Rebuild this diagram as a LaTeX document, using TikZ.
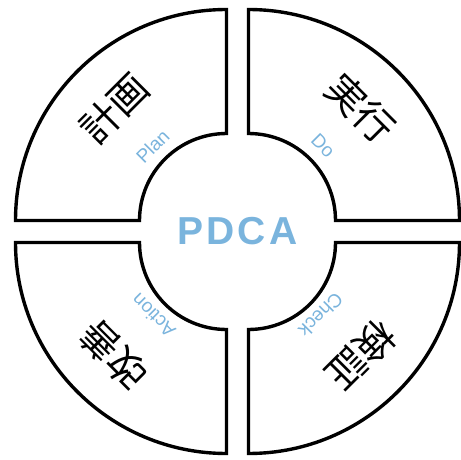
\documentclass[tikz,border=0pt]{standalone}
\usepackage{fontspec}
\setmainfont{Liberation Sans}
\newfontfamily\cjk{Noto Sans CJK JP}
\newfontfamily\pdcafont[LetterSpace=8]{Liberation Sans}
\definecolor{pdcablue}{RGB}{122,180,221}
\begin{document}
\begin{tikzpicture}[x=1pt,y=1pt,
  sector/.style={draw=black,line width=3.4pt,line join=miter,fill=white},
  kanji/.style={font=\cjk\fontsize{39}{39}\selectfont,inner sep=0pt},
  eng/.style={font=\fontsize{19}{19}\selectfont,text=pdcablue,inner sep=0pt},
  title/.style={font=\pdcafont\bfseries\fontsize{39}{39}\selectfont,text=pdcablue,inner sep=0pt}]
\useasboundingbox (0,0) rectangle (461,459);
\coordinate (C) at (237.5,227.5);
\def\Ro{211}
\def\Ri{87}
\def\off{11}
% top-left
\draw[sector] ([shift={(-\off-\Ri,\off)}]C) -- ([shift={(-\off-\Ro,\off)}]C)
  arc[start angle=180,end angle=90,radius=\Ro] -- ([shift={(-\off,\off+\Ri)}]C)
  arc[start angle=90,end angle=180,radius=\Ri] -- cycle;
% top-right
\draw[sector] ([shift={(\off,\off+\Ri)}]C) -- ([shift={(\off,\off+\Ro)}]C)
  arc[start angle=90,end angle=0,radius=\Ro] -- ([shift={(\off+\Ri,\off)}]C)
  arc[start angle=0,end angle=90,radius=\Ri] -- cycle;
% bottom-right
\draw[sector] ([shift={(\off+\Ri,-\off)}]C) -- ([shift={(\off+\Ro,-\off)}]C)
  arc[start angle=0,end angle=-90,radius=\Ro] -- ([shift={(\off,-\off-\Ri)}]C)
  arc[start angle=-90,end angle=0,radius=\Ri] -- cycle;
% bottom-left
\draw[sector] ([shift={(-\off,-\off-\Ri)}]C) -- ([shift={(-\off,-\off-\Ro)}]C)
  arc[start angle=270,end angle=180,radius=\Ro] -- ([shift={(-\off-\Ri,-\off)}]C)
  arc[start angle=180,end angle=270,radius=\Ri] -- cycle;
% labels
\node[title] (pdca) at (C) {PDCA};
\node[kanji,rotate=45] (plan) at ([shift={(135:174)}]C) {計画};
\node[eng,rotate=45] (planE) at ([shift={(135:120)}]C) {Plan};
\node[kanji,rotate=-45] (do) at ([shift={(45:174)}]C) {実行};
\node[eng,rotate=-45] (doE) at ([shift={(45:121)}]C) {Do};
\node[kanji,rotate=225] (check) at ([shift={(-45:175)}]C) {検証};
\node[eng,rotate=225] (checkE) at ([shift={(-45:118)}]C) {Check};
\node[kanji,rotate=135] (act) at ([shift={(225:175)}]C) {改善};
\node[eng,rotate=135] (actE) at ([shift={(225:119)}]C) {Action};
\end{tikzpicture}
\end{document}
